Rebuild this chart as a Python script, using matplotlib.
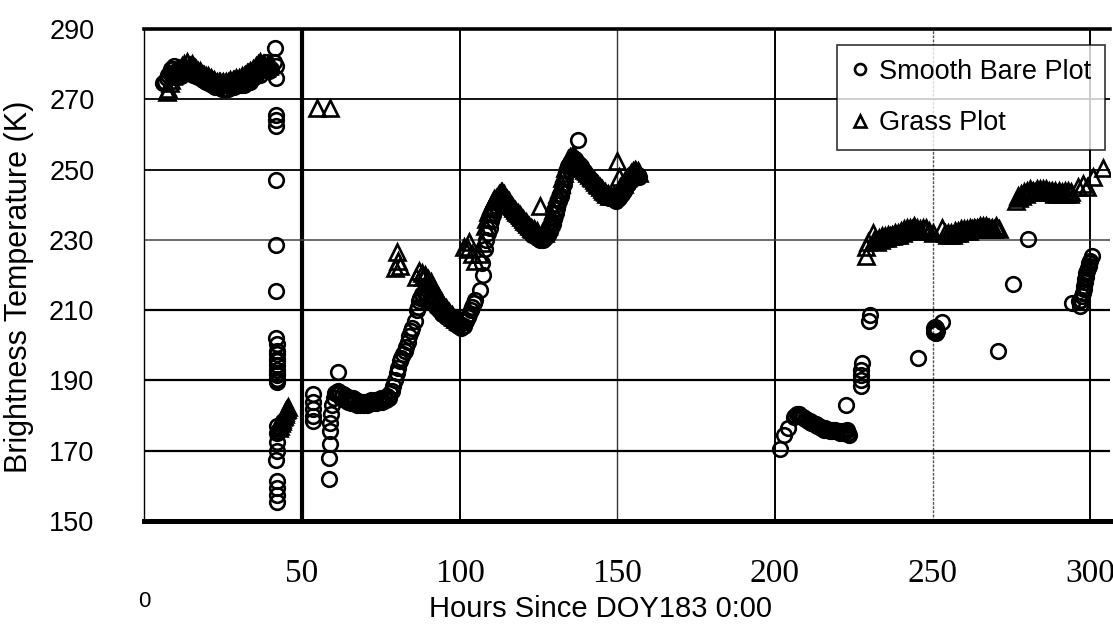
import matplotlib
matplotlib.use("Agg")
import matplotlib.pyplot as plt

plt.rcParams['font.family'] = ['Liberation Sans', 'DejaVu Sans']

# ---------------- data ----------------
bare_hours = [6, 7, 8, 9, 10, 11, 12, 13, 14, 15, 16, 17, 18, 19, 20, 21, 22, 23, 24, 25,
              26, 27, 28, 29, 30, 31, 32, 33, 34, 35, 36, 37, 38, 39, 40,
              41, 41.5, 41.8, 41.6, 41.7, 41.7, 41.7, 41.8, 41.8, 41.8, 41.8, 41.9, 41.9, 41.9,
              41.9, 41.9, 41.9, 41.9, 41.9, 42, 42, 42, 41.9, 41.8, 41.9, 41.9, 41.9, 41.9,
              42.5, 43, 43.5, 44,
              53.5, 53.5, 53.5, 53.5, 53.5,
              58.5, 58.5, 58.8, 59, 59, 59.3, 59.5, 60, 61.4, 61, 62, 63, 64, 65, 66, 67, 68,
              69, 70, 71, 72, 73, 74, 75, 76, 77, 78, 79, 79.5, 80, 80.5, 81, 82, 83, 83.5, 84,
              85, 85.8, 86.3, 87, 88, 89, 90, 91, 92, 93, 94, 95, 96, 97, 98, 99, 100, 101, 102,
              103, 104, 105, 106.4, 107.5, 107, 108, 109, 110, 111, 112, 113, 114, 115, 116,
              117, 118, 119, 120, 121, 122, 123, 124, 125, 126, 127, 128, 129, 130, 131, 132,
              133, 134, 135, 136, 137, 137.5, 138, 139, 140, 141, 142, 143, 144, 145, 146, 147,
              148, 149, 150, 151, 152, 153, 154, 155, 156, 157,
              201.5, 203, 204, 206, 207, 208, 209, 210, 211, 212, 213, 214, 215, 216, 217, 218,
              219, 220, 221, 222, 223, 223.5, 222.5, 227.5, 227.3, 227.3, 227.3, 227.3, 230.2,
              230, 245.4, 250.8, 251, 250.5, 251.5, 253, 270.8, 275.6, 280.3, 294.2, 296.8,
              297.5, 298, 298.3, 298.6, 299, 299.5, 300, 300.5]
bare_tb = [274.5, 276, 277.5, 278.5, 278, 277, 277.5, 279, 278.5, 278, 277.5, 277, 276.5, 276.5,
           276, 275.5, 275, 274.5, 274.5, 274, 274, 274, 274, 274.5, 274.5, 275, 275.5, 276,
           276.5, 277, 278, 278.5, 279.5, 279, 278.5,
           280.5, 284.5, 276, 279.5, 265.5, 264, 262.5, 247, 228.5, 215.5, 202, 200.5, 197.5,
           196, 194.5, 193, 191.5, 190.5, 189.5, 177, 175, 172.5, 170, 167.5, 161.5, 159.5,
           157.5, 155.5,
           175.5, 176.5, 177.5, 178.5,
           186, 184, 182, 180, 178.5,
           162, 168, 172, 175.5, 178, 180.5, 183, 185, 192.5, 186, 186.5, 186, 185.5, 185, 185,
           184.5, 184, 184, 184, 184, 184.5, 184.5, 184.5, 185, 185, 185.5, 186.5, 188.5, 190,
           192, 193.5, 195.5, 197.5, 199.5, 201, 202.5, 205, 207, 210, 212.5, 214.5, 215, 214,
           213, 212, 211, 210, 209, 208.5, 208, 207, 206.5, 206, 205.5, 207, 209, 211, 213,
           215.7, 220, 223.5, 227.5, 232, 235.5, 238.5, 240.5, 241.5, 241, 239.5, 238.5, 237.5,
           236.5, 235.5, 234.5, 233.5, 232.5, 231.5, 231, 230.5, 230.5, 230.5, 231.5, 233.5,
           236, 239, 242.5, 246, 249.5, 252, 253, 252.5, 258.5, 251.5, 250, 248.5, 247.5,
           246.5, 245.5, 244.5, 243.5, 243, 242.5, 242, 241.5, 241.5, 242.5, 244, 245.5, 247,
           248, 248.5, 248,
           170.5, 174.5, 176.5, 179.5, 180.5, 180, 179.5, 179, 178.5, 178, 177.5, 177, 176.5,
           176.5, 176, 176, 176, 175.5, 175.5, 175.5, 176, 174.5, 183, 195, 193, 191.5, 190,
           188.5, 208.5, 207, 196.5, 204.5, 203.5, 205, 204, 206.5, 198.5, 217.5, 230.2, 212,
           211.2, 214, 216, 218, 219.5, 221, 222.5, 224, 225.3]

# intermediate (half-hour) readings of the bare plot
bare_hours_half = [6.5, 7.5, 8.5, 9.5, 10.5, 11.5, 12.5, 13.5, 14.5, 15.5, 16.5, 17.5, 18.5,
                   19.5, 20.5, 21.5, 22.5, 23.5, 24.5, 25.5, 26.5, 27.5, 28.5, 29.5, 30.5,
                   31.5, 32.5, 33.5, 34.5, 35.5, 36.5, 37.5, 38.5, 39.5,
                   41.9, 41.9, 41.9, 42,
                   60.5, 61.5, 62.5, 63.5, 64.5, 65.5, 66.5, 67.5, 68.5, 69.5, 70.5, 71.5,
                   72.5, 73.5, 74.5, 75.5, 76.5, 77.5, 78.5, 81.5, 82.5, 84.5, 86.8, 87.5,
                   88.5, 89.5, 90.5, 91.5, 92.5, 93.5, 94.5, 95.5, 96.5, 97.5, 98.5, 99.5,
                   100.5, 101.5, 102.5, 103.5, 104.5, 108.5, 109.5, 110.5, 111.5, 112.5,
                   113.5, 114.5, 115.5, 116.5, 117.5, 118.5, 119.5, 120.5, 121.5, 122.5,
                   123.5, 124.5, 125.5, 126.5, 127.5, 128.5, 129.5, 130.5, 131.5, 132.5,
                   133.5, 134.5, 135.5, 136.5, 138.5, 139.5, 140.5, 141.5, 142.5, 143.5,
                   144.5, 145.5, 146.5, 147.5, 148.5, 149.5, 150.5, 151.5, 152.5, 153.5,
                   154.5, 155.5, 156.5,
                   206.5, 207.5, 208.5, 209.5, 210.5, 211.5, 212.5, 213.5, 214.5, 215.5,
                   216.5, 217.5, 218.5, 219.5, 220.5, 221.5, 222.5, 223.2,
                   250.6, 251.2, 250.9,
                   297.8, 298.1, 298.4, 298.8, 299.2, 299.7, 297.2, 296.5]
bare_tb_half = [275, 277, 278.5, 279.5, 277.5, 276.5, 278, 280, 278, 277, 276.5, 276, 275.5,
                275, 274.5, 274, 273.5, 273.5, 273, 273, 273, 273.5, 273.5, 274, 274, 274,
                274.5, 275, 276, 276.5, 277, 279, 280.5, 278,
                192, 195.5, 198.5, 190,
                186.5, 187, 185, 184.5, 184, 183.5, 183.5, 183, 183, 183, 183, 183.5, 183.5,
                183.5, 184, 184, 184.5, 185, 187, 196.5, 198.5, 204, 211, 213.5,
                214, 214, 213, 212, 211, 210, 209, 208, 207.5, 207, 206, 205.5, 205, 205.5,
                208, 210, 212, 230, 233.5, 237, 239.5, 241,
                241.5, 240, 239, 238, 237, 236, 235, 234, 233, 232, 231.5, 230.5, 230, 230,
                231, 232.5, 234.5, 237.5, 241, 244, 248, 251, 252.5, 253, 251, 249.5, 248,
                247, 246, 245, 244, 243.5, 242.5, 242, 241.5, 241, 242, 243, 245, 246, 247.5,
                248.5, 248.5,
                180, 180.5, 179.5, 179, 178.5, 178, 177.5, 177, 176.5, 176, 176, 175.5,
                175.5, 175.5, 175, 175, 175.5, 175,
                203.8, 204.8, 205.3,
                215, 217, 219, 220.5, 222, 223.5, 213, 212.5]

grass_hours = [7, 8, 9, 10, 11, 12, 13, 14, 15, 16, 17, 18, 19, 20, 21, 22, 23, 24, 25, 26, 27,
               28, 29, 30, 31, 32, 33, 34, 35, 36, 37, 38, 39, 40,
               43, 43.5, 44, 44.5, 45, 45.5,
               54.8, 58.8,
               79.5, 80, 80.5, 81, 86, 87, 88, 89, 90, 91, 92, 93, 94, 95, 96, 97, 98, 99, 100,
               101.5, 102.5, 103, 104, 105, 106, 107, 108, 109, 110, 111, 112, 113, 114, 115,
               116, 117, 118, 119, 120, 121, 122, 123, 124, 125.5, 126, 127, 128, 129, 130, 131,
               132, 133, 134, 135, 136, 137, 138, 139, 140, 141, 142, 143, 144, 145, 146, 147,
               148, 149, 150, 150.5, 151, 152, 153, 154, 155, 156, 157,
               229, 229, 229.5, 231, 232, 233, 234, 235, 236, 237, 238, 239, 240, 241, 242, 243,
               244, 245, 246, 247, 248, 249, 250, 253, 254, 255, 256, 257, 258, 259, 260, 261,
               262, 263, 264, 265, 266, 267, 268, 269, 270, 271, 276.5, 277, 278, 279, 280, 281,
               282, 283, 284, 285, 286, 287, 288, 289, 290, 291, 292, 293, 294, 296, 297.8, 299,
               301, 304]
grass_tb = [272, 274.5, 276.5, 278, 278.5, 279.5, 279, 279.5, 280, 279, 278, 277.5, 277, 276.5,
            276, 275.5, 275, 275, 275, 275, 275.5, 275.5, 276, 276, 276.5, 277, 277.5, 278, 279,
            280, 279.5, 280, 279.5, 280,
            177, 178.5, 179.5, 180.5, 181.5, 182.5,
            267.5, 267.5,
            222, 226.5, 224, 222.5, 219.5, 221, 220.5, 220, 219, 218, 216, 214, 212.5, 211, 210,
            209, 208, 207.5, 207, 228, 227.5, 229.5, 226, 224, 226, 229, 234, 238, 240, 241.5,
            242.5, 243.5, 243, 241.5, 240, 239, 238, 237, 236, 235, 234, 233, 232.5, 239.5, 232,
            232, 234, 237, 240.5, 243, 246, 249, 252, 253.5, 254, 253, 252, 250.5, 249.5, 248.5,
            247.5, 246.5, 245.5, 244.5, 243.5, 243, 242.5, 242.5, 252.5, 248, 245, 246, 247.5,
            248.5, 249.5, 249.5, 249,
            225.5, 228, 229.5, 232, 230, 230.5, 231, 231, 231.5, 231.5, 232, 232, 232.5, 233,
            233.5, 233.5, 234, 233.5, 233, 233.5, 233.5, 232.5, 232, 233.5, 232, 232, 232, 232.5,
            232.5, 233, 233, 233, 233.5, 233.5, 233.5, 234, 234, 234, 233.5, 233.5, 234, 233,
            241, 242.5, 243, 243.5, 244, 244.5, 244, 244.5, 244.5, 244.5, 244.5, 244, 244, 244,
            244, 243.5, 244, 244, 243.5, 245, 246, 245, 248, 250.4]

# intermediate (half-hour) readings of the grass plot
grass_hours_half = [7.5, 8.5, 9.5, 10.5, 11.5, 12.5, 13.5, 14.5, 15.5, 16.5, 17.5, 18.5, 19.5,
                    20.5, 21.5, 22.5, 23.5, 24.5, 25.5, 26.5, 27.5, 28.5, 29.5, 30.5, 31.5,
                    32.5, 33.5, 34.5, 35.5, 36.5, 37.5, 38.5, 39.5,
                    42.7, 43.2, 43.7, 44.2, 44.7, 45.2,
                    88.5, 89.5, 90.5, 91.5, 92.5, 93.5, 94.5, 95.5, 96.5, 97.5, 98.5, 99.5,
                    108.5, 109.5, 110.5, 111.5, 112.5, 113.5, 114.5, 115.5, 116.5, 117.5,
                    118.5, 119.5, 120.5, 121.5, 122.5, 123.5, 124.5, 126.5, 127.5, 128.5,
                    129.5, 130.5, 131.5, 132.5, 133.5, 134.5, 135.5, 136.5, 137.5, 138.5,
                    139.5, 140.5, 141.5, 142.5, 143.5, 144.5, 145.5, 146.5, 147.5, 148.5,
                    151.5, 152.5, 153.5, 154.5, 155.5, 156.5,
                    231.5, 232.5, 233.5, 234.5, 235.5, 236.5, 237.5, 238.5, 239.5, 240.5,
                    241.5, 242.5, 243.5, 244.5, 245.5, 246.5, 247.5, 254.5, 255.5, 256.5,
                    257.5, 258.5, 259.5, 260.5, 261.5, 262.5, 263.5, 264.5, 265.5, 266.5,
                    267.5, 268.5, 269.5, 270.5, 277.5, 278.5, 279.5, 280.5, 281.5, 282.5,
                    283.5, 284.5, 285.5, 286.5, 287.5, 288.5, 289.5, 290.5, 291.5, 292.5,
                    293.5]
grass_tb_half = [273, 275.5, 277.5, 278.5, 279, 280, 280.5, 279.5, 279.5, 278.5, 278, 277,
                 276.5, 276, 275.5, 275, 275, 274.5, 274.5, 275, 275, 275.5, 275.5, 276, 276.5,
                 277.5, 278, 278.5, 279.5, 280.5, 280, 279, 279.5,
                 176.5, 178, 179, 180, 181, 182,
                 219.5, 218.5, 217.5, 216.5, 215, 213.5, 212, 210.5, 209.5, 208.5, 207.5, 207,
                 236, 239, 241, 242, 243, 243.5, 242, 241, 239.5, 238.5, 237.5, 236.5, 235.5,
                 234.5, 233.5, 233, 232.5, 232, 233, 235.5, 238.5, 242, 244.5, 247.5, 250.5,
                 253, 254, 253.5, 252.5, 251, 250, 249, 248, 247, 246, 245, 244, 243, 242.5,
                 242.5, 245.5, 247, 248, 249, 250, 249.5,
                 230, 229.5, 230, 230.5, 230.5, 231, 231, 231.5, 231.5, 232, 232.5, 232.5, 233,
                 233, 232.5, 232.5, 232.5, 231.5, 231.5, 231.5, 232, 232, 232.5, 232.5, 232.5,
                 233, 233, 233, 233.5, 233.5, 233.5, 233, 233, 233.5, 242, 242.5, 243, 243.5,
                 243.5, 243.5, 243.5, 243.5, 243.5, 243.5, 243.5, 243, 243, 243, 243, 243, 243]

x_ticks = [0, 50, 100, 150, 200, 250, 300]
x_ticklabels = ['', '50', '100', '150', '200', '250', '300']
y_ticks = [150, 170, 190, 210, 230, 250, 270, 290]

# ---------------- figure ----------------
fig = plt.figure(figsize=(11.13, 6.29), dpi=100)
ax = fig.add_axes([0.1298, 0.1717, 0.8675, 0.7822])
ax.set_xlim(0, 306.3)
ax.set_ylim(150, 290)

vstyles = {50: dict(lw=3.0, color='black'),
           100: dict(lw=1.4, color='black'),
           150: dict(lw=1.0, color='#333333'),
           200: dict(lw=1.4, color='black'),
           250: dict(lw=1.0, color='#555555', ls=(0, (2, 1))),
           300: dict(lw=1.4, color='black')}
for xv in x_ticks[1:]:
    ax.axvline(xv, zorder=1, **vstyles[xv])
hstyles = {170: dict(lw=1.6, color='black'),
           190: dict(lw=1.6, color='black'),
           210: dict(lw=1.6, color='black'),
           230: dict(lw=1.1, color='#444444'),
           250: dict(lw=1.3, color='black'),
           270: dict(lw=1.3, color='black')}
for yv in y_ticks[1:-1]:
    ax.axhline(yv, zorder=1, **hstyles[yv])

mk = dict(linestyle='none', markerfacecolor='none', markeredgecolor='black',
          markeredgewidth=1.9, zorder=3)
ax.plot(bare_hours + bare_hours_half, bare_tb + bare_tb_half, marker='o', markersize=10.5,
        label='Smooth Bare Plot', **mk)
ax.plot(grass_hours + grass_hours_half, grass_tb + grass_tb_half, marker='^', markersize=11,
        label='Grass Plot', **mk)

ax.spines['right'].set_visible(False)
ax.spines['top'].set_linewidth(2.6)
ax.spines['bottom'].set_linewidth(3.6)
ax.spines['left'].set_linewidth(1.0)

ax.set_xticks(x_ticks)
ax.set_xticklabels(x_ticklabels, fontfamily='Liberation Serif', fontsize=24)
ax.set_yticks(y_ticks)
ax.set_yticklabels([str(v) for v in y_ticks], fontsize=19.5)
ax.tick_params(axis='x', length=0, pad=27)
ax.tick_params(axis='y', length=0, pad=36)

ax.text(0, -0.163, '0', transform=ax.get_xaxis_transform(), ha='center', va='center',
        fontsize=16, fontfamily='Liberation Sans')

ax.set_xlabel('Hours Since DOY183 0:00', fontsize=21)
ax.xaxis.set_label_coords(0.4728, -0.150)
ax.set_ylabel('Brightness Temperature (K)', fontsize=22)
ax.yaxis.set_label_coords(-0.1144, 0.4766)

leg = ax.legend(loc='upper right', bbox_to_anchor=(0.9948, 0.9675), borderaxespad=0,
                fontsize=19.5, frameon=True, fancybox=False, edgecolor='black',
                markerscale=0.75, handlelength=0.7, handletextpad=0.35,
                borderpad=0.5, labelspacing=0.95)
leg.get_frame().set_linewidth(1.2)
leg.set_zorder(5)

fig.savefig('out.png', dpi=100)
